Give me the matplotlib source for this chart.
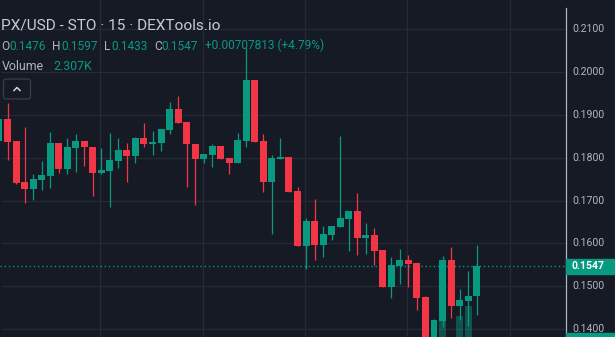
import matplotlib
matplotlib.use("Agg")
import matplotlib.pyplot as plt
import matplotlib.transforms as mtransforms
from matplotlib.patches import FancyBboxPatch, Rectangle
from matplotlib.lines import Line2D
import numpy as np

# ---------------- data (15-min candles, oldest first) ----------------
opens = [0.1839, 0.1891, 0.1839, 0.1743, 0.1727, 0.1748, 0.1757, 0.1835, 0.1774, 0.1823,
         0.1839, 0.1825, 0.1764, 0.1769, 0.1793, 0.1818, 0.1804, 0.1846, 0.1832, 0.1835,
         0.1865, 0.1914, 0.1884, 0.1832, 0.1797, 0.1807, 0.1828, 0.1800, 0.1788, 0.1839,
         0.1982, 0.1839, 0.1743, 0.1797, 0.1802, 0.1722, 0.1594, 0.1652, 0.1596, 0.1620,
         0.1638, 0.1657, 0.1676, 0.1613, 0.1620, 0.1585, 0.1498, 0.1547, 0.1561, 0.1554,
         0.1475, 0.1370, 0.1419, 0.1561, 0.1454, 0.1465, 0.1476]
highs = [0.1900, 0.1928, 0.1839, 0.1872, 0.1762, 0.1793, 0.1860, 0.1835, 0.1846, 0.1856,
         0.1839, 0.1825, 0.1823, 0.1858, 0.1846, 0.1835, 0.1849, 0.1881, 0.1863, 0.1867,
         0.1930, 0.1944, 0.1884, 0.1832, 0.1809, 0.1832, 0.1828, 0.1800, 0.1858, 0.2057,
         0.1982, 0.1856, 0.1807, 0.1846, 0.1802, 0.1732, 0.1659, 0.1704, 0.1641, 0.1641,
         0.1851, 0.1676, 0.1718, 0.1648, 0.1636, 0.1585, 0.1568, 0.1587, 0.1573, 0.1554,
         0.1477, 0.1423, 0.1571, 0.1592, 0.1493, 0.1536, 0.1597]
lows = [0.1818, 0.1795, 0.1739, 0.1694, 0.1701, 0.1725, 0.1729, 0.1764, 0.1762, 0.1767,
        0.1781, 0.1711, 0.1762, 0.1685, 0.1776, 0.1743, 0.1788, 0.1825, 0.1807, 0.1816,
        0.1856, 0.1881, 0.1732, 0.1690, 0.1788, 0.1779, 0.1797, 0.1762, 0.1788, 0.1825,
        0.1837, 0.1720, 0.1622, 0.1797, 0.1720, 0.1594, 0.1540, 0.1561, 0.1568, 0.1608,
        0.1638, 0.1582, 0.1573, 0.1575, 0.1550, 0.1498, 0.1472, 0.1505, 0.1498, 0.1444,
        0.1355, 0.1360, 0.1405, 0.1426, 0.1421, 0.1407, 0.1433]
closes = [0.1891, 0.1837, 0.1741, 0.1727, 0.1750, 0.1760, 0.1835, 0.1774, 0.1825, 0.1839,
          0.1825, 0.1764, 0.1771, 0.1795, 0.1818, 0.1804, 0.1846, 0.1832, 0.1837, 0.1867,
          0.1914, 0.1881, 0.1832, 0.1797, 0.1809, 0.1828, 0.1797, 0.1788, 0.1842, 0.1982,
          0.1837, 0.1743, 0.1800, 0.1802, 0.1720, 0.1594, 0.1652, 0.1596, 0.1622, 0.1641,
          0.1659, 0.1676, 0.1613, 0.1620, 0.1582, 0.1498, 0.1550, 0.1561, 0.1552, 0.1472,
          0.1368, 0.1421, 0.1561, 0.1454, 0.1468, 0.1477, 0.1547]
volumes = [1200, 1500, 1800, 1400, 900, 800, 1300, 1100, 1000, 900,
           700, 1200, 800, 1300, 900, 800, 1000, 900, 700, 1000,
           1400, 1300, 1500, 1600, 800, 900, 1000, 800, 1400, 2400,
           2300, 1900, 1600, 900, 1700, 2100, 1500, 1400, 1000, 900,
           1300, 1000, 1400, 900, 1200, 1900, 1600, 1100, 1000, 2000,
           3300, 2400, 3520, 2500, 3360, 3760, 2307]
price_ticks = [0.14, 0.15, 0.16, 0.17, 0.18, 0.19, 0.20, 0.21]
last_price = 0.1547

title_text = "PX/USD - STO \u00b7 15 \u00b7 DEXTools.io"
ohlc_labels = ["O", "H", "L", "C"]
ohlc_values = ["0.1476", "0.1597", "0.1433", "0.1547"]
change_text = "+0.00707813 (+4.79%)"
volume_label = "Volume"
volume_value = "2.307K"

# ---------------- style ----------------
BG = "#161a25"
GRID = "#262a36"
UP = "#089981"
DOWN = "#f23645"
TXT = "#b2b5be"
FONT = "Roboto"

W, H = 615, 337
fig = plt.figure(figsize=(W / 100, H / 100), dpi=100, facecolor=BG)
AX_W = 565
ax = fig.add_axes([0, 0, AX_W / W, 1])
ax.set_facecolor(BG)
for s in ax.spines.values():
    s.set_visible(False)
ax.tick_params(left=False, bottom=False, labelleft=False, labelbottom=False)

n = len(opens)
x = np.arange(n)
step = 8.53
x0_px = 7.5
xmin = 1 - x0_px / step
xmax = 1 + (AX_W - x0_px) / step
ax.set_xlim(xmin, xmax)
ppu = 4280.0  # pixels per price unit
ymin = 0.14 - 8 / ppu
ymax = 0.14 + 329 / ppu
ax.set_ylim(ymin, ymax)

# grid
for p in price_ticks:
    ax.axhline(p, color=GRID, lw=0.9, zorder=0)
for px in [100, 203, 305, 407, 510]:
    ax.axvline(1 + (px - x0_px) / step, color=GRID, lw=0.9, zorder=0)

o = np.array(opens); c = np.array(closes); hi = np.array(highs); lo = np.array(lows)
up = c >= o
cols = np.where(up, UP, DOWN)

# volume overlay (own scale)
axv = ax.twinx()
axv.set_position(ax.get_position())
axv.set_ylim(2520, 16000)
for s in axv.spines.values():
    s.set_visible(False)
axv.tick_params(right=False, labelright=False)
axv.bar(x, volumes, width=0.82, color=cols, alpha=0.45, zorder=1)

# candles
ax.vlines(x, lo, hi, colors=cols, lw=0.9, zorder=2)
body_lo = np.minimum(o, c)
body_h = np.maximum(np.abs(c - o), 1.2 / ppu)
ax.bar(x, body_h, bottom=body_lo, width=0.82, color=cols, zorder=3, linewidth=0)

# last price dotted line
ax.axhline(last_price, color=UP, lw=1.0, linestyle=(0, (1, 2)), zorder=1)

# right price scale
trans = mtransforms.blended_transform_factory(ax.transAxes, ax.transData)
fig.add_artist(Line2D([AX_W / W + 0.5 / W] * 2, [0, 1 - 8 / H], color="#b2b5be", lw=0.9))
for p in price_ticks:
    ax.text(572 / AX_W, p, f"{p:.4f}", transform=trans, color=TXT, fontsize=7.6,
            family=FONT, va="center", ha="left", clip_on=False)
# last price tag
tag = Rectangle((566 / W, 1 - 274 / H), 49 / W, 15 / H, color=UP, transform=fig.transFigure, zorder=5)
fig.add_artist(tag)
t_last = fig.text(572 / W, 0.5, f"{last_price:.4f}", color="white", fontsize=7.6,
                  fontweight="bold", family=FONT, va="center", ha="left", zorder=6)
t_last.set_transform(mtransforms.blended_transform_factory(fig.transFigure, ax.transData))
t_last.set_position((572 / W, last_price))
fig.add_artist(Rectangle((566 / W, 0), 49 / W, 4 / H, color=UP, transform=fig.transFigure, zorder=5))

# header texts
renderer = fig.canvas.get_renderer()

def put_seq(pieces, x_px, y_px, size):
    cur = x_px
    for txt, col, gap in pieces:
        cur += gap
        t = fig.text(cur / W, 1 - y_px / H, txt, color=col, fontsize=size, family=FONT,
                     va="baseline", ha="left", zorder=7)
        bb = t.get_window_extent(renderer=renderer)
        cur = bb.x1

put_seq([(title_text, "#c9ccd4", 0)], 1, 29.5, 11.1)
pieces = []
for i, (lab, val) in enumerate(zip(ohlc_labels, ohlc_values)):
    pieces.append((lab, TXT, 0 if i == 0 else 6.5))
    pieces.append((val, UP, 0.3))
pieces.append((change_text, UP, 6.5))
put_seq(pieces, 1, 49.5, 8.6)
put_seq([(volume_label, TXT, 0), (volume_value, UP, 9)], 2, 70, 8.9)

# collapse button
btn = FancyBboxPatch((3.5 / W, 1 - 99 / H), 27 / W, 20 / H,
                     boxstyle="round,pad=0,rounding_size=0.006",
                     transform=fig.transFigure, facecolor=BG, edgecolor="#3a3e4a", lw=0.9)
fig.add_artist(btn)
fig.add_artist(Line2D([14 / W, 17 / W, 20 / W], [1 - 90.5 / H, 1 - 87.5 / H, 1 - 90.5 / H],
                      color="#d1d4dc", lw=1.1))

fig.savefig("out.png", dpi=100, facecolor=BG)
